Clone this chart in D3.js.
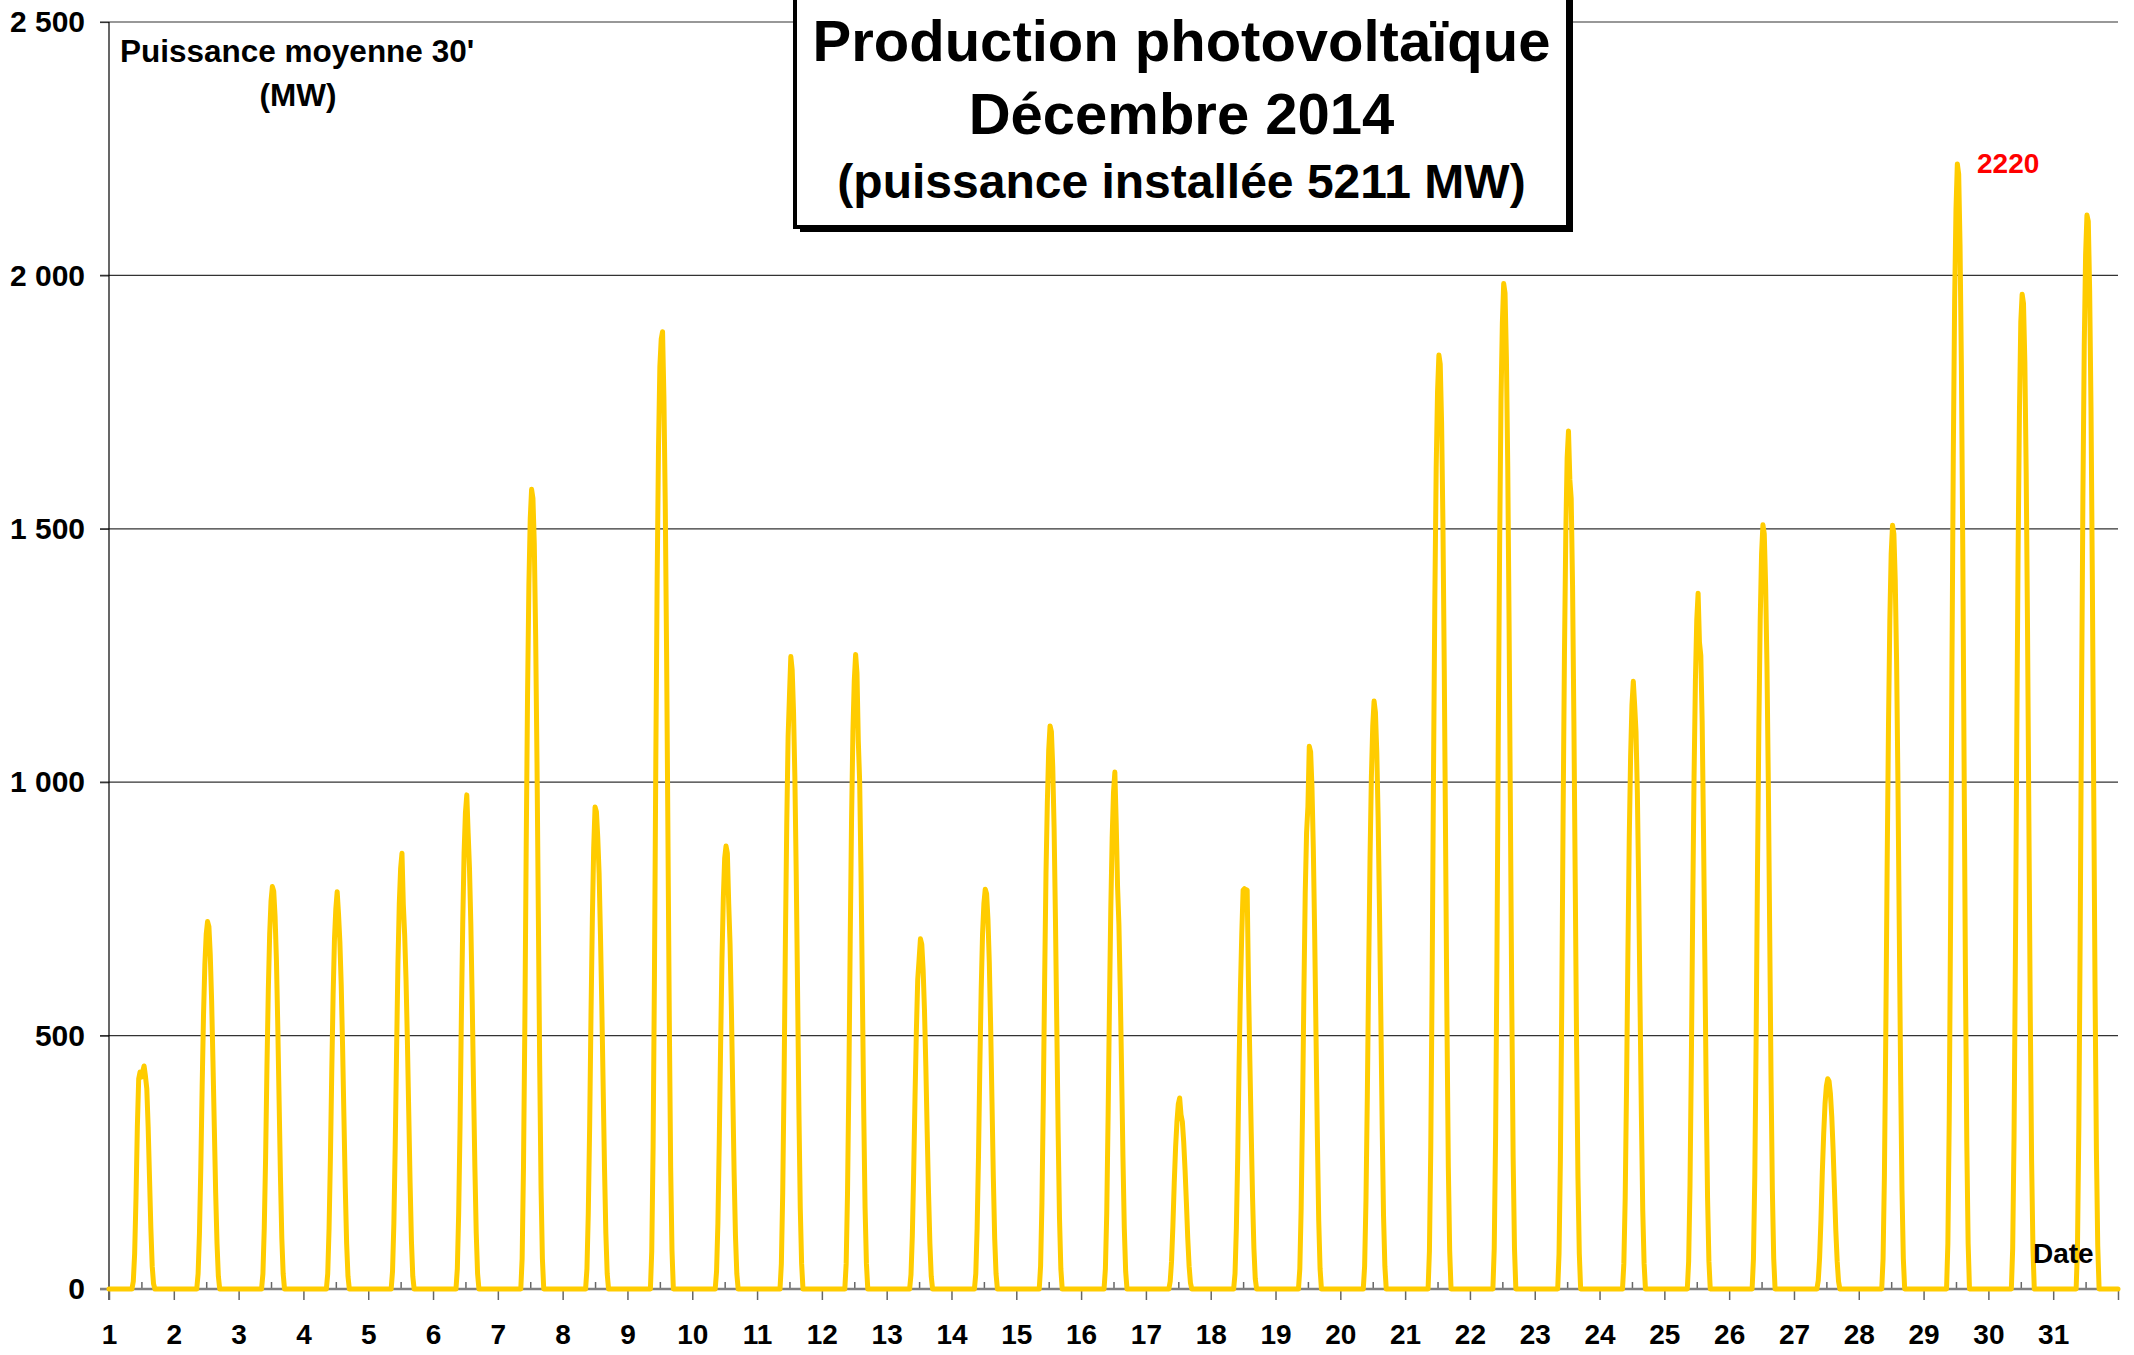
<!DOCTYPE html>
<html><head><meta charset="utf-8">
<script src="https://cdn.jsdelivr.net/npm/d3@7"></script>
<style>
body{margin:0;background:#fff;}
svg{display:block;}
text{font-family:"Liberation Sans",Arial,Helvetica,sans-serif;font-weight:bold;}
</style>
</head><body>
<svg id="chart" width="2134" height="1355"></svg>
<script>
// ---- data ----
const dayLabels = ["1","2","3","4","5","6","7","8","9","10","11","12","13","14","15","16","17","18","19","20","21","22","23","24","25","26","27","28","29","30","31"];
const yTicks = [0, 500, 1000, 1500, 2000, 2500];
const yTickLabels = ["0", "500", "1 000", "1 500", "2 000", "2 500"];
// half-hour slots carrying production each day: 9:00 ... 16:30 (slot 18 .. 33), zero otherwise
const slotTimes = ["9:00","9:30","10:00","10:30","11:00","11:30","12:00","12:30","13:00","13:30","14:00","14:30","15:00","15:30","16:00","16:30"];
const firstSlot = 18;
// mean 30' power (MW) per day
const week1 = [
  [15,70,180,320,415,428,418,430,440,420,395,320,220,120,45,10],
  [30,110,240,400,540,640,700,725,715,660,570,450,320,190,90,25],
  [30,120,260,440,590,700,765,794,785,735,650,520,370,220,100,30],
  [30,120,260,430,580,690,750,784,740,685,600,480,340,200,90,25],
  [35,130,285,470,640,760,830,860,758,698,610,490,350,210,95,25],
  [40,150,320,540,720,860,940,975,900,830,720,570,400,240,110,30],
  [60,240,520,870,1170,1390,1520,1578,1560,1470,1290,1040,740,440,200,60]
];
const week2 = [
  [40,150,320,540,730,870,951,942,891,820,700,560,400,240,110,30],
  [75,280,620,1040,1400,1660,1820,1874,1889,1760,1550,1250,890,530,240,75],
  [35,130,290,480,650,770,850,874,860,760,680,550,390,230,105,30],
  [50,190,410,690,920,1090,1171,1248,1222,1140,1010,820,590,350,160,50],
  [50,190,410,690,930,1100,1200,1252,1215,1080,1000,820,590,350,160,50],
  [28,105,230,380,510,611,650,691,680,630,550,440,310,190,90,25],
  [30,120,260,440,590,700,760,789,780,730,645,520,370,220,100,30]
];
const week3 = [
  [45,170,370,610,820,960,1063,1111,1100,1030,910,730,520,310,140,40],
  [40,150,340,560,750,890,980,1020,920,795,720,590,430,260,120,35],
  [15,55,125,210,280,330,365,377,344,330,290,235,170,100,45,12],
  [30,120,260,440,590,700,787,790,788,787,600,450,310,180,80,20],
  [40,160,350,580,780,900,952,1071,1060,990,870,700,500,300,135,40],
  [45,175,380,630,850,1010,1110,1160,1138,1060,930,750,540,320,145,45],
  [75,280,610,1010,1360,1620,1770,1843,1825,1710,1510,1220,870,520,240,75]
];
const week4 = [
  [80,300,650,1090,1470,1750,1905,1984,1965,1840,1625,1310,930,560,260,80],
  [70,255,560,930,1250,1490,1640,1693,1597,1560,1390,1120,800,480,220,70],
  [50,180,400,660,890,1050,1152,1199,1152,1100,980,790,560,340,155,50],
  [55,205,450,750,1010,1200,1320,1373,1276,1250,1120,900,650,385,180,55],
  [60,225,500,830,1110,1320,1450,1508,1490,1390,1230,1000,710,420,195,60],
  [17,62,137,230,305,365,400,415,410,385,340,275,195,115,55,15],
  [60,225,500,830,1110,1320,1450,1507,1490,1400,1240,1000,710,420,195,60]
];
const week5 = [
  [90,335,730,1220,1640,1950,2130,2220,2200,2060,1820,1470,1040,620,290,90],
  [80,300,650,1080,1450,1730,1908,1963,1945,1830,1610,1300,920,550,255,80],
  [85,320,700,1160,1560,1860,2040,2119,2107,1970,1740,1400,990,590,275,85]
];
const maxLabel = "2220";

// ---- chart ----
const svg = d3.select("#chart");
const profiles = week1.concat(week2, week3, week4, week5);
const x = d3.scaleLinear().domain([0, 31]).range([109, 2118]);
const y = d3.scaleLinear().domain([0, 2500]).range([1289, 22]);
const FONT = '"Liberation Sans",Arial,sans-serif';

// build half-hourly series
const series = [];
profiles.forEach((p, d) => {
  for (let s = 0; s < 48; s++) {
    const k = s - firstSlot;
    series.push({t: d + s / 48, v: (k >= 0 && k < p.length) ? p[k] : 0});
  }
});
series.push({t: 31, v: 0});

// gridlines
svg.append("g").selectAll("line").data(yTicks.filter(v => v > 0)).join("line")
  .attr("x1", x(0) - 9).attr("x2", x(31))
  .attr("y1", d => y(d)).attr("y2", d => y(d))
  .attr("stroke", "#333").attr("stroke-width", 1.2);

// left axis
const yAxis = d3.axisLeft(y).tickValues(yTicks).tickSize(9).tickPadding(15)
  .tickFormat((d, i) => yTickLabels[i]);
const gy = svg.append("g").attr("transform", `translate(${x(0)},0)`).call(yAxis);
gy.select(".domain").remove();
gy.selectAll(".tick line").attr("stroke", "#333").attr("stroke-width", 1.2);
gy.selectAll(".tick text").attr("font-size", 30).attr("fill", "#000")
  .style("font-family", FONT).style("font-weight", "bold");
svg.append("line").attr("x1", x(0)).attr("x2", x(0)).attr("y1", y(2500)).attr("y2", y(0) + 11)
  .attr("stroke", "#000").attr("stroke-width", 1.2);

// bottom axis: day boundaries (labels) below, noon ticks above
const xAxis = d3.axisBottom(x).tickValues(d3.range(0, 32)).tickSize(11).tickPadding(24)
  .tickFormat((d, i) => i < dayLabels.length ? dayLabels[i] : "");
const gx = svg.append("g").attr("transform", `translate(0,${y(0)})`).call(xAxis);
gx.select(".domain").remove();
gx.selectAll(".tick line").attr("stroke", "#666").attr("stroke-width", 1.5);
gx.selectAll(".tick text").attr("font-size", 28).attr("fill", "#000")
  .style("font-family", FONT).style("font-weight", "bold");
const xNoon = d3.axisTop(x).tickValues(d3.range(0, 31).map(d => d + 0.5)).tickSize(7).tickFormat("");
const gn = svg.append("g").attr("transform", `translate(0,${y(0)})`).call(xNoon);
gn.select(".domain").remove();
gn.selectAll(".tick line").attr("stroke", "#666").attr("stroke-width", 1.5);

// zero line
svg.append("line").attr("x1", x(0) - 9).attr("x2", x(31)).attr("y1", y(0)).attr("y2", y(0))
  .attr("stroke", "#808080").attr("stroke-width", 2.5);

// the curve
svg.append("path").datum(series)
  .attr("fill", "none").attr("stroke", "#FFCC00").attr("stroke-width", 5)
  .attr("stroke-linejoin", "round").attr("stroke-linecap", "round")
  .attr("d", d3.line().x(d => x(d.t)).y(d => y(d.v)));

// axis captions
svg.append("text").attr("x", 120).attr("y", 62).attr("font-size", 31.5).text("Puissance moyenne 30'");
svg.append("text").attr("x", 298).attr("y", 106).attr("font-size", 31.5).attr("text-anchor", "middle").text("(MW)");
svg.append("text").attr("x", 2033).attr("y", 1263).attr("font-size", 28).text("Date");
svg.append("text").attr("x", 1977).attr("y", 173).attr("font-size", 28).attr("fill", "#FF0000").text(maxLabel);

// title box
const box = {x: 795, y: -10, w: 773, h: 237};
svg.append("rect").attr("x", box.x + 5).attr("y", box.y + 5).attr("width", box.w).attr("height", box.h).attr("fill", "#000");
svg.append("rect").attr("x", box.x).attr("y", box.y).attr("width", box.w).attr("height", box.h)
  .attr("fill", "#fff").attr("stroke", "#000").attr("stroke-width", 4);
const cx = box.x + box.w / 2;
svg.append("text").attr("x", cx).attr("y", 61).attr("text-anchor", "middle").attr("font-size", 58).text("Production photovoltaïque");
svg.append("text").attr("x", cx).attr("y", 134).attr("text-anchor", "middle").attr("font-size", 58).text("Décembre 2014");
svg.append("text").attr("x", cx).attr("y", 198).attr("text-anchor", "middle").attr("font-size", 48).text("(puissance installée 5211 MW)");
</script>
</body></html>
